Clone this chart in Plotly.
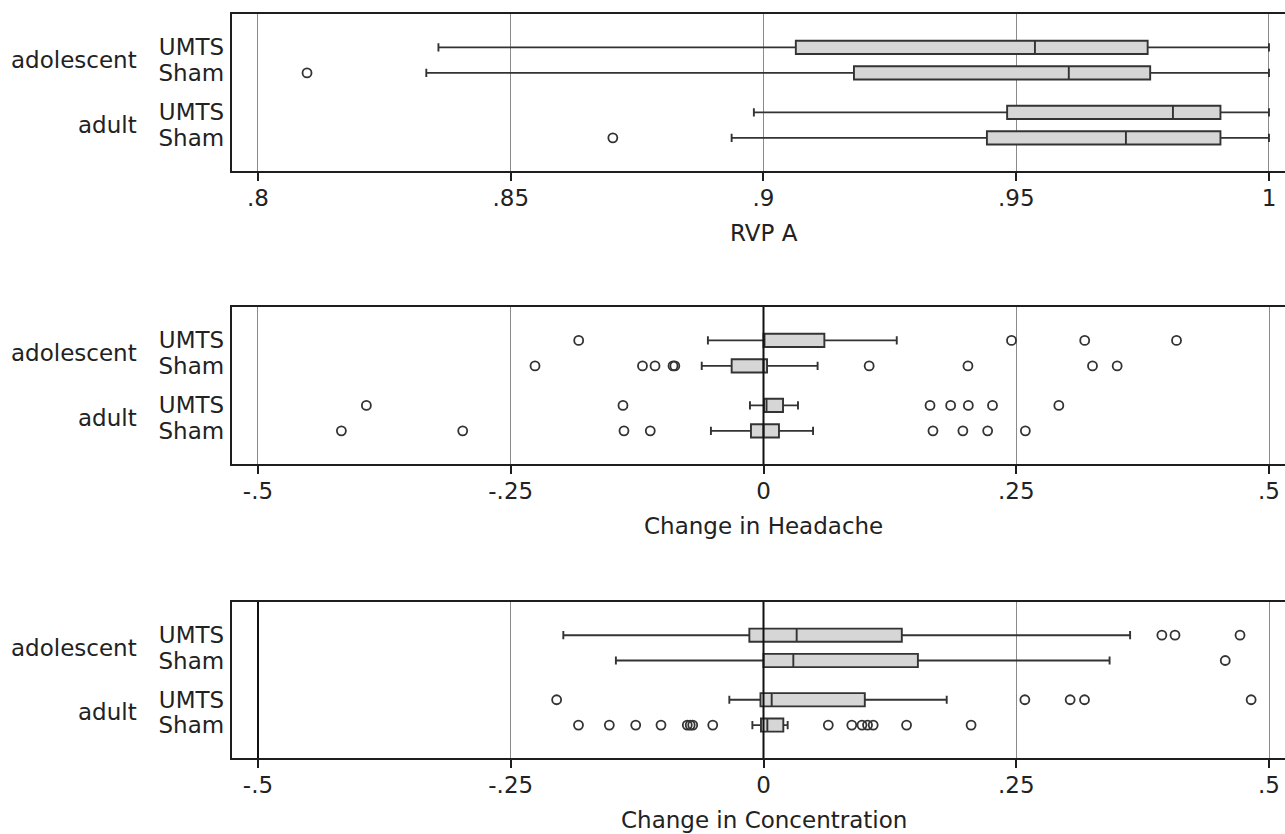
import plotly.graph_objects as go

# ---------------- data ----------------
GROUP_LABELS = ["adolescent", "adult"]
ROW_LABELS = ["Sham", "UMTS", "Sham", "UMTS"]          # bottom -> top
ROW_POS = [0.0, 1.0, 2.55, 3.55]                       # adult Sham, adult UMTS, adol Sham, adol UMTS
GROUP_POS = [3.05, 0.5]

TITLES = ["RVP A", "Change in Headache", "Change in Concentration"]
TICKVALS = [[0.8, 0.85, 0.9, 0.95, 1.0],
            [-0.5, -0.25, 0, 0.25, 0.5],
            [-0.5, -0.25, 0, 0.25, 0.5]]
TICKTEXT = [[".8", ".85", ".9", ".95", "1"],
            ["-.5", "-.25", "0", ".25", ".5"],
            ["-.5", "-.25", "0", ".25", ".5"]]

# RVP A (order: adult Sham, adult UMTS, adol Sham, adol UMTS)
rvp_lf = [0.8937, 0.8981, 0.8333, 0.8357]
rvp_q1 = [0.9442, 0.9482, 0.9179, 0.9064]
rvp_med = [0.9717, 0.9810, 0.9604, 0.9537]
rvp_q3 = [0.9904, 0.9904, 0.9765, 0.9760]
rvp_uf = [1.0, 1.0, 1.0, 1.0]
rvp_out = [[0.8702], [], [0.8097], []]

# Change in Headache
head_lf = [-0.052, -0.0134, -0.0611, -0.055]
head_q1 = [-0.0124, 0.0005, -0.0315, 0.0]
head_med = [0.0, 0.003, 0.0, 0.0]
head_q3 = [0.0153, 0.0193, 0.0035, 0.0602]
head_uf = [0.049, 0.0341, 0.0535, 0.1318]
head_out = [[-0.4175, -0.2975, -0.138, -0.112, 0.1676, 0.1972, 0.2217, 0.259],
            [-0.3928, -0.139, 0.1647, 0.1851, 0.2026, 0.2265, 0.2921],
            [-0.226, -0.1197, -0.1073, -0.0895, -0.0877, 0.1045, 0.2022, 0.3254, 0.3498],
            [-0.1828, 0.2453, 0.3177, 0.4085]]

# Change in Concentration
conc_lf = [-0.011, -0.0338, -0.146, -0.198]
conc_q1 = [-0.0025, -0.003, 0.0, -0.014]
conc_med = [0.0038, 0.0081, 0.0295, 0.0328]
conc_q3 = [0.0196, 0.1002, 0.1527, 0.1368]
conc_uf = [0.0239, 0.1812, 0.3423, 0.3626]
conc_out = [[-0.183, -0.1525, -0.1264, -0.1014, -0.0754, -0.0725, -0.070, -0.0502,
             0.0641, 0.0873, 0.0974, 0.1029, 0.1085, 0.1415, 0.2053],
            [-0.2046, 0.2585, 0.3033, 0.3175, 0.4823],
            [0.4567],
            [0.3940, 0.4070, 0.4713]]

PANELS = [
    (rvp_lf, rvp_q1, rvp_med, rvp_q3, rvp_uf, rvp_out),
    (head_lf, head_q1, head_med, head_q3, head_uf, head_out),
    (conc_lf, conc_q1, conc_med, conc_q3, conc_uf, conc_out),
]
X_RANGES = [[0.79486, 1.00317], [-0.5257, 0.5158], [-0.5257, 0.5158]]
REF_LINES = [[], [0], [-0.5, 0]]

# ---------------- layout geometry ----------------
W, H = 1285, 834
FRAMES = [(14, 171), (307, 464), (602, 758)]   # top / bottom pixel of each panel
LEFT = 232
FONT = "DejaVu Sans, Liberation Sans, Arial, sans-serif"
FS = 23
TXT = "#222222"
FRAME_C = "#1e1e1e"
GRID_C = "#8a8a8a"
BOX_FILL = "#d6d6d6"
BOX_LINE = "#333333"

fig = go.Figure()
annotations = []
shapes = []

for i, (lf, q1, med, q3, uf, outs) in enumerate(PANELS):
    n = "" if i == 0 else str(i + 1)
    xa, ya = "x" + n, "y" + n
    fig.add_trace(go.Box(
        y=ROW_POS, q1=q1, median=med, q3=q3, lowerfence=lf, upperfence=uf,
        orientation="h", width=0.52, whiskerwidth=0.62,
        fillcolor=BOX_FILL, line=dict(color=BOX_LINE, width=1.9),
        boxpoints=False, showlegend=False, xaxis=xa, yaxis=ya, hoverinfo="skip"))
    ox, oy = [], []
    for pos, vals in zip(ROW_POS, outs):
        ox += vals
        oy += [pos] * len(vals)
    fig.add_trace(go.Scatter(
        x=ox, y=oy, mode="markers",
        marker=dict(symbol="circle-open", size=9, color="#333333",
                    line=dict(width=1.8, color="#333333")),
        showlegend=False, xaxis=xa, yaxis=ya, hoverinfo="skip"))

    top, bot = FRAMES[i]
    ydom = [1 - bot / H, 1 - top / H]
    fig.layout["xaxis" + n] = dict(
        domain=[LEFT / W, 1.0], range=X_RANGES[i], anchor=ya,
        tickvals=TICKVALS[i], ticktext=TICKTEXT[i],
        showgrid=True, gridcolor=GRID_C, gridwidth=1, zeroline=False,
        showline=True, mirror=True, linecolor=FRAME_C, linewidth=2.4,
        ticks="outside", ticklen=8, tickwidth=1.5, tickcolor=FRAME_C,
        ticklabelstandoff=-3,
        tickfont=dict(family=FONT, size=FS, color=TXT), automargin=False,
        fixedrange=True)
    fig.layout["yaxis" + n] = dict(
        domain=ydom, range=[-1.3, 4.86], anchor=xa,
        tickvals=ROW_POS, ticktext=ROW_LABELS,
        showgrid=False, zeroline=False,
        showline=True, mirror=False, linecolor=FRAME_C, linewidth=2.4,
        ticks="", ticklabelstandoff=1,
        tickfont=dict(family=FONT, size=FS, color=TXT), automargin=False,
        fixedrange=True)

    for g, gp in zip(GROUP_LABELS, GROUP_POS):
        annotations.append(dict(
            text=g, x=139 / W, xref="paper", y=gp, yref=ya,
            xanchor="right", yanchor="middle", showarrow=False,
            font=dict(family=FONT, size=FS, color=TXT)))
    annotations.append(dict(
        text=TITLES[i], x=(LEFT + 1295) / 2 / W, xref="paper",
        y=1 - (bot + 62) / H, yref="paper", xanchor="center", yanchor="middle",
        showarrow=False, font=dict(family=FONT, size=FS, color=TXT)))
    for v in REF_LINES[i]:
        shapes.append(dict(type="line", xref=xa, yref=ya + " domain",
                           x0=v, x1=v, y0=0, y1=1, layer="above",
                           line=dict(color="#111111", width=2)))

fig.update_layout(
    width=W, height=H, margin=dict(l=0, r=0, t=0, b=0),
    paper_bgcolor="white", plot_bgcolor="white",
    boxmode="overlay", annotations=annotations, shapes=shapes)

fig.write_html("out.html", config={"displayModeBar": False},
               post_script="document.body.style.margin='0';")
